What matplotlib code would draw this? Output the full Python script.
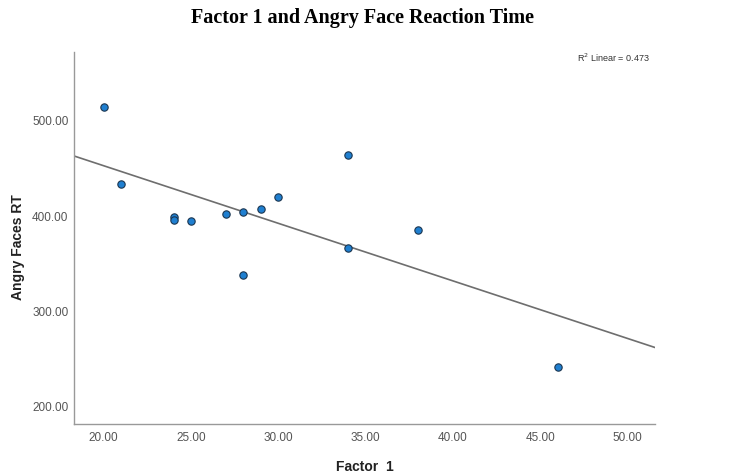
import numpy as np
import matplotlib
matplotlib.use('Agg')
from matplotlib import pyplot as plt

plt.rcParams['font.family'] = ['Liberation Sans', 'DejaVu Sans']

# data
factor1 = [20, 21, 24, 24, 25, 27, 28, 28, 29, 30, 34, 34, 38, 46]
angry_rt = [514, 434, 399, 396, 395, 402, 404, 338, 407, 420, 464, 366, 385, 242]
xticks = [20, 25, 30, 35, 40, 45, 50]
yticks = [200, 300, 400, 500]

x = np.array(factor1, dtype=float)
y = np.array(angry_rt, dtype=float)

fig = plt.figure(figsize=(7.33, 4.76), dpi=100)
ax = fig.add_axes([0.101, 0.109, 0.793, 0.782])

xlim = (18.3, 51.6)
ylim = (182, 572)

# fit line across full x range
slope, intercept = np.polyfit(x, y, 1)
xl = np.array(xlim)
ax.plot(xl, slope * xl + intercept, color='#6e6e6e', lw=1.2, zorder=2)

ax.scatter(x, y, s=28, color='#1f7fd0', edgecolor='#1a3550', linewidth=0.8, zorder=3)

ax.set_xlim(*xlim)
ax.set_ylim(*ylim)
ax.set_xticks(xticks)
ax.set_xticklabels(['%.2f' % v for v in xticks])
ax.set_yticks(yticks)
ax.set_yticklabels(['%.2f' % v for v in yticks])
ax.tick_params(length=0, labelsize=8.5, colors='#555555')
ax.tick_params(axis='y', pad=4)
ax.tick_params(axis='x', pad=6)

for s in ['top', 'right']:
    ax.spines[s].set_visible(False)
for s in ['left', 'bottom']:
    ax.spines[s].set_color('#999999')
    ax.spines[s].set_linewidth(1.0)

ax.set_xlabel('Factor  1', fontsize=10, fontweight='bold', color='#222222', labelpad=11)
ax.set_ylabel('Angry Faces RT', fontsize=10, fontweight='bold', color='#222222')
ax.yaxis.set_label_coords(-0.085, 0.476)

ax.text(0.99, 1.0, r'R$^2$ Linear = 0.473', transform=ax.transAxes, fontsize=6.5,
        ha='right', va='top', color='#333333')

fig.text(0.495, 0.962, 'Factor 1 and Angry Face Reaction Time', family='Liberation Serif',
         fontsize=14.5, fontweight='bold', ha='center', va='center')

fig.savefig('out.png', dpi=100)
